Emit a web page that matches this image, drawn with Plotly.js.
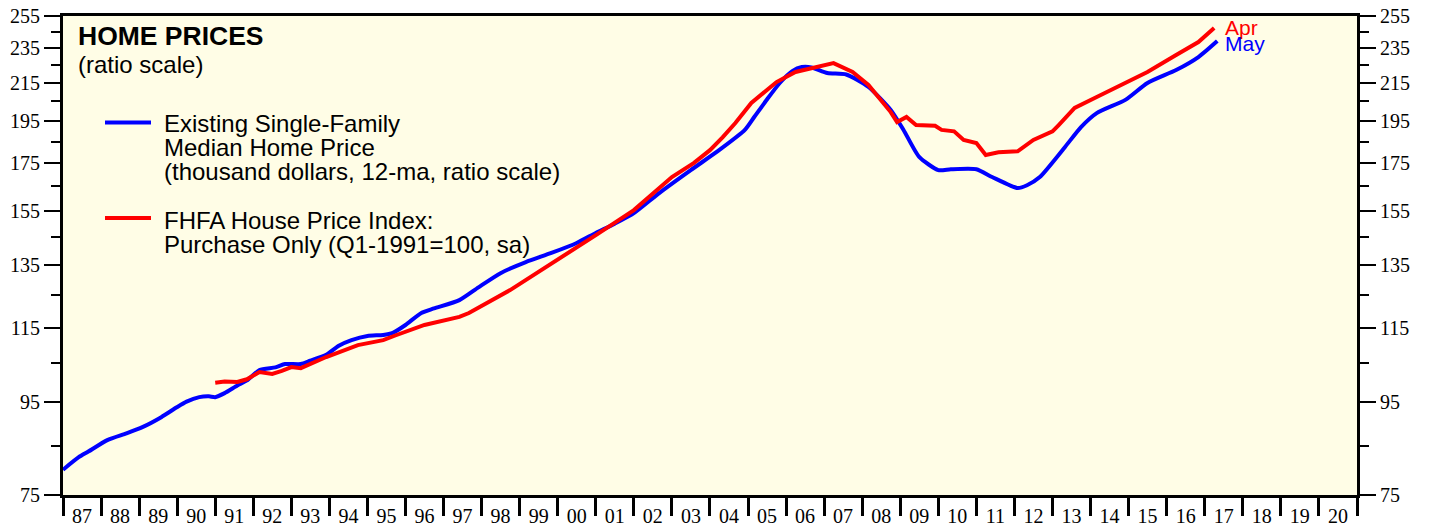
<!DOCTYPE html>
<html><head><meta charset="utf-8">
<script src="https://cdn.plot.ly/plotly-3.0.1.min.js"></script>
<style>html,body{margin:0;padding:0;background:#fff}#chart{width:1429px;height:531px}</style>
</head><body><div id="chart"></div>
<script>
// Existing single-family median home price (thousand dollars, 12-ma)
const medianDates = ['1987-01','1987-06','1987-09','1988-03','1988-09','1989-02','1989-08','1990-01','1990-04','1990-08','1990-11','1991-01','1991-04','1991-08','1991-11','1992-03','1992-08','1992-11','1993-04','1993-07','1993-12','1994-04','1994-08','1995-01','1995-06','1995-09','1996-01','1996-06','1996-10','1997-06','1997-12','1998-07','1999-03','1999-11','2000-07','2001-01','2001-07','2002-01','2002-09','2003-07','2004-04','2004-12','2005-03','2005-07','2005-11','2006-03','2006-06','2006-09','2007-02','2007-08','2008-03','2008-10','2009-02','2009-07','2010-01','2010-05','2011-01','2011-06','2012-02','2012-05','2012-09','2013-05','2013-10','2014-03','2014-12','2015-07','2016-04','2016-11','2017-05'];
const medianValues = [80.0,82.6,83.8,86.3,87.8,89.2,91.5,93.9,95.2,96.3,96.5,96.3,97.3,99.2,100.5,103.2,103.9,104.8,104.8,105.7,107.3,109.8,111.4,112.6,112.9,113.5,115.8,119.4,120.8,123.4,127.5,132.2,136.0,139.2,142.8,146.5,150.0,154.1,162.2,172.0,181.1,190.6,197.0,206.0,214.9,221.5,223.8,223.6,220.4,219.6,212.7,200.6,190.6,177.9,172.0,172.4,172.4,169.0,164.3,165.5,169.0,182.5,192.0,199.0,205.8,214.9,222.1,229.6,239.2];

// FHFA house price index, purchase only (Q1-1991=100, sa)
const fhfaDates = ['1991-01','1991-04','1991-08','1991-11','1992-03','1992-07','1992-10','1993-01','1993-04','1993-12','1994-10','1995-06','1995-10','1996-07','1997-06','1997-09','1998-10','2000-01','2001-01','2002-01','2003-01','2003-08','2004-01','2004-05','2004-09','2005-02','2005-10','2006-04','2006-11','2007-04','2007-10','2008-03','2008-10','2008-12','2009-03','2009-06','2009-12','2010-02','2010-06','2010-09','2011-01','2011-04','2011-08','2011-10','2012-02','2012-07','2013-01','2013-03','2013-08','2014-03','2014-12','2015-07','2016-04','2016-11','2017-04'];
const fhfaValues = [99.9,100.2,100.1,100.8,102.7,102.2,103.0,104.0,103.7,106.7,110.0,111.4,112.8,115.8,118.2,119.4,126.6,136.7,145.7,155.3,169.0,175.2,181.0,187.0,194.0,204.2,215.4,221.0,223.8,226.1,221.0,213.8,199.5,194.5,197.0,193.0,192.6,190.6,189.9,185.8,184.3,178.8,180.0,180.2,180.5,185.8,189.9,193.0,201.6,207.3,214.9,221.0,230.8,238.6,247.3];

const yearLabels = ['87','88','89','90','91','92','93','94','95','96','97','98','99','00','01','02','03','04','05','06','07','08','09','10','11','12','13','14','15','16','17','18','19','20'];
const firstYear = 1987;
const yMajorTicks = [75,95,115,135,155,175,195,215,235,255];
const yMinorTicks = [85,105,125,145,165,185,205,225,245];
const medianEndLabel = 'May';
const fhfaEndLabel = 'Apr';

const legendMedianLines = ['Existing Single-Family','Median Home Price','(thousand dollars, 12-ma, ratio scale)'];
const legendFhfaLines = ['FHFA House Price Index:','Purchase Only (Q1-1991=100, sa)'];

// plot-area geometry (pixels)
const W = 1429, H = 531, L = 63, R = 1357, T = 16, B = 495;
const px = x => (x - L) / (R - L);
const py = y => (B - y) / (B - T);

const tickDates = [];
for (let i = 0; i <= yearLabels.length; i++) tickDates.push((firstYear + i) + '-01-01');
const labelDates = yearLabels.map((_, i) => (firstYear + i) + '-07-02');
const xRange = [tickDates[0], tickDates[tickDates.length - 1]];
const yRange = [Math.log10(75), Math.log10(255)];

const serif = 'Liberation Serif, Times New Roman, serif';
const sans = 'Liberation Sans, Arial, Helvetica, sans-serif';
const BLUE = '#0000ff', RED = '#ff0000';

const traces = [
  {x: medianDates, y: medianValues, type: 'scatter', mode: 'lines', line: {color: BLUE, width: 4, shape: 'spline', smoothing: 0.6}, hoverinfo: 'skip'},
  {x: fhfaDates, y: fhfaValues, type: 'scatter', mode: 'lines', line: {color: RED, width: 4}, hoverinfo: 'skip'},
  {x: [], y: [], xaxis: 'x2', yaxis: 'y2', type: 'scatter', mode: 'lines', hoverinfo: 'skip'}
];

const yAxisBase = {
  type: 'log', range: yRange, tickmode: 'array', tickvals: yMajorTicks, ticktext: yMajorTicks.map(String),
  ticks: 'outside', ticklen: 16, tickwidth: 2, tickcolor: '#000',
  minor: {tickmode: 'array', tickvals: yMinorTicks, ticks: 'outside', ticklen: 9, tickwidth: 2, tickcolor: '#000', showgrid: false},
  showline: true, linewidth: 3, linecolor: '#000', showgrid: false, zeroline: false,
  tickfont: {family: serif, size: 20, color: '#000'}, fixedrange: true
};

const annotations = [];
const ann = (text, x, y, size, color, bold) => annotations.push({
  text: bold ? '<b>' + text + '</b>' : text, xref: 'paper', yref: 'paper', x: px(x), y: py(y),
  xanchor: 'left', yanchor: 'middle', showarrow: false, font: {family: sans, size: size, color: color}
});
ann('HOME PRICES', 76, 36, 26.5, '#000', true);
ann('(ratio scale)', 76, 65, 24, '#000', false);
legendMedianLines.forEach((t, i) => ann(t, 162, 123 + i * 24.5, 24, '#000', false));
legendFhfaLines.forEach((t, i) => ann(t, 162, 220 + i * 24.5, 24, '#000', false));

annotations.push({text: fhfaEndLabel, x: fhfaDates[fhfaDates.length - 1], y: Math.log10(fhfaValues[fhfaValues.length - 1]),
  xref: 'x', yref: 'y', xanchor: 'left', yanchor: 'middle', xshift: 9, yshift: 1, showarrow: false,
  font: {family: sans, size: 21, color: RED}});
annotations.push({text: medianEndLabel, x: medianDates[medianDates.length - 1], y: Math.log10(medianValues[medianValues.length - 1]),
  xref: 'x', yref: 'y', xanchor: 'left', yanchor: 'middle', xshift: 6, yshift: -2, showarrow: false,
  font: {family: sans, size: 21, color: BLUE}});

const shapes = [
  {type: 'line', xref: 'paper', yref: 'paper', x0: px(105), x1: px(151), y0: py(122.5), y1: py(122.5), line: {color: BLUE, width: 4}},
  {type: 'line', xref: 'paper', yref: 'paper', x0: px(105), x1: px(151), y0: py(218), y1: py(218), line: {color: RED, width: 4}}
];

const layout = {
  width: W, height: H, margin: {l: L, r: W - R, t: T, b: H - B, autoexpand: false},
  paper_bgcolor: '#ffffff', plot_bgcolor: '#fffde6', showlegend: false,
  xaxis: {type: 'date', range: xRange, tickmode: 'array', tickvals: tickDates, showticklabels: false,
    ticks: 'outside', ticklen: 18, tickwidth: 3, tickcolor: '#000',
    showline: true, linewidth: 3, linecolor: '#000', mirror: true, showgrid: false, zeroline: false, fixedrange: true},
  xaxis2: {type: 'date', range: xRange, overlaying: 'x', anchor: 'y', side: 'bottom', tickmode: 'array',
    tickvals: labelDates, ticktext: yearLabels, ticks: 'outside', ticklen: 3, tickcolor: 'rgba(0,0,0,0)',
    showline: false, showgrid: false, zeroline: false, tickfont: {family: serif, size: 20, color: '#000'}, fixedrange: true},
  yaxis: Object.assign({}, yAxisBase, {side: 'left'}),
  yaxis2: Object.assign({}, yAxisBase, {side: 'right', overlaying: 'y', anchor: 'x'}),
  annotations: annotations, shapes: shapes
};

Plotly.newPlot('chart', traces, layout, {staticPlot: true, displayModeBar: false});
</script></body></html>
